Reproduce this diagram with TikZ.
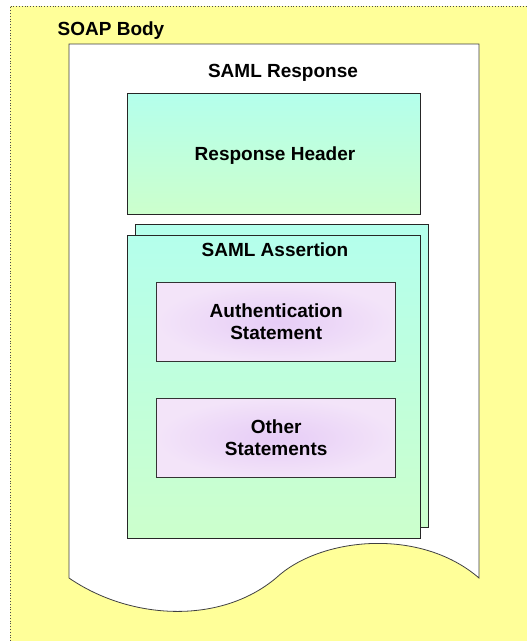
\documentclass[tikz,border=0pt]{standalone}
\usepackage{fontspec}
\setmainfont{Liberation Sans}
\definecolor{bgyellow}{RGB}{255,255,153}
\definecolor{cyantop}{RGB}{180,255,236}
\definecolor{greenbot}{RGB}{204,255,204}
\definecolor{purpin}{RGB}{230,204,246}
\definecolor{purpout}{RGB}{243,228,249}
\begin{document}
\begin{tikzpicture}[x=1pt,y=-1pt,
  lbl/.style={font=\bfseries\fontsize{19}{22}\selectfont, text=black, align=center, inner sep=0pt, anchor=base},
  greenbox/.style={draw=black!85, line width=0.8pt, top color=cyantop, bottom color=greenbot, inner sep=0pt},
  purplebox/.style={draw=black!80, line width=0.8pt, inner color=purpin, outer color=purpout, inner sep=0pt, font=\bfseries\fontsize{19}{22}\selectfont, align=center},
  frameline/.style={draw=black!70, line width=0.8pt, dotted}
]
\useasboundingbox (0,0) rectangle (527,641);
% background
\fill[bgyellow] (10,6) rectangle (527,641);
\coordinate (bgTL) at (10,6);
\coordinate (bgTR) at (527,6);
\coordinate (bgBL) at (10,641);
\draw[frameline] (bgBL) -- (bgTL) -- (bgTR);
\node[lbl] (soap) at (111,35) {SOAP Body};
% document shape
\coordinate (dTL) at (69,44);
\coordinate (dTR) at (479,44);
\coordinate (dBL) at (69,578);
\coordinate (dBR) at (479,578);
\coordinate (dMid) at (276,578);
\draw[draw=black!75, line width=0.8pt, fill=white]
  (dBL) -- (dTL) -- (dTR) -- (dBR)
  .. controls (420,527) and (320,537) .. (dMid)
  .. controls (220,625) and (130,620) .. (dBL) -- cycle;
\node[lbl] (resp) at (283,77) {SAML Response};
% response header
\node[greenbox, minimum width=293.4pt, minimum height=121.7pt] (hdr) at (274,154) {};
\node[lbl] (hdrtxt) at (275,160) {Response Header};
% assertion boxes
\node[greenbox, minimum width=293pt, minimum height=303.3pt] (assback) at (281.5,375.7) {};
\node[greenbox, minimum width=293.4pt, minimum height=303pt] (ass) at (274,386.5) {};
\node[lbl] (asstxt) at (275,256) {SAML Assertion};
% statements
\node[purplebox, minimum width=239pt, minimum height=79pt] (auth) at (276.2,322.2) {Authentication\\Statement};
\node[purplebox, minimum width=239pt, minimum height=79.4pt] (other) at (276.2,438) {Other\\Statements};
\end{tikzpicture}
\end{document}
